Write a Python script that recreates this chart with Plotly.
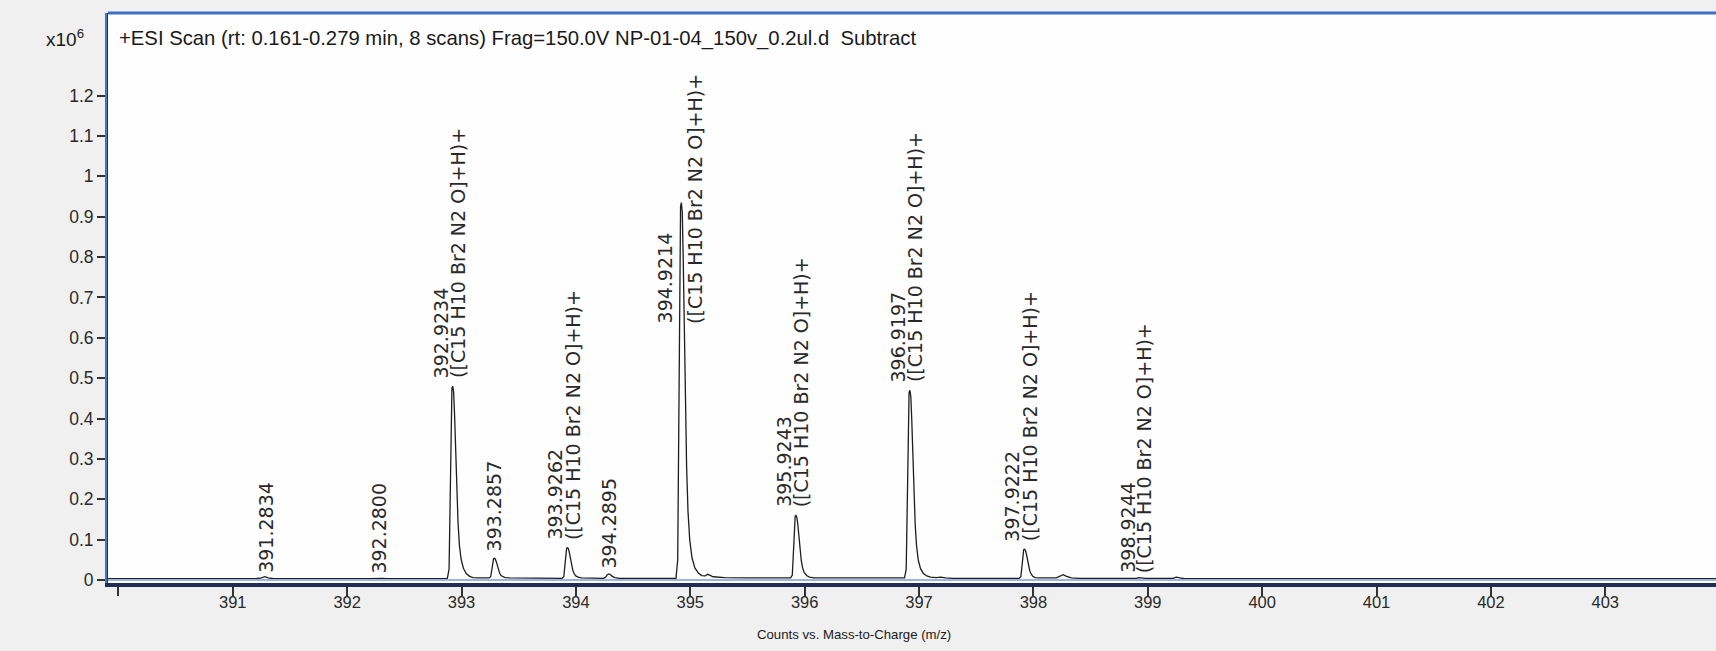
import plotly.graph_objects as go

# profile spectrum, m/z vs counts (x10^6)
mz = [389.91, 391.20, 391.25, 391.28, 391.31, 391.36, 392.20, 392.26, 392.28, 392.31, 392.35,
      392.876, 392.891, 392.901, 392.909, 392.916, 392.923, 392.931, 392.939, 392.949, 392.959, 392.969,
      392.981, 392.996, 393.016, 393.041, 393.071, 393.10, 393.15,
      393.24, 393.255, 393.265, 393.273, 393.280, 393.287, 393.295, 393.303, 393.313, 393.323, 393.333,
      393.345, 393.36, 393.38, 393.42,
      393.879, 393.894, 393.904, 393.912, 393.919, 393.926, 393.934, 393.942, 393.952, 393.962, 393.972,
      393.984, 393.999, 394.019, 394.05,
      394.24, 394.26, 394.275, 394.289, 394.303, 394.318, 394.34, 394.38,
      394.875, 394.890, 394.900, 394.908, 394.915, 394.922, 394.930, 394.938, 394.948, 394.958, 394.968,
      394.98, 394.995, 395.015, 395.04, 395.07, 395.10, 395.13, 395.15, 395.17, 395.20, 395.30, 395.50,
      395.877, 395.892, 395.902, 395.910, 395.917, 395.924, 395.932, 395.940, 395.950, 395.960, 395.970,
      395.982, 395.997, 396.017, 396.042, 396.08,
      396.873, 396.888, 396.898, 396.906, 396.913, 396.920, 396.928, 396.936, 396.946, 396.956, 396.966,
      396.978, 396.993, 397.013, 397.038, 397.068, 397.10, 397.15, 397.19, 397.23, 397.30,
      397.875, 397.890, 397.900, 397.908, 397.915, 397.922, 397.930, 397.938, 397.948, 397.958, 397.968,
      397.980, 397.995, 398.015, 398.05,
      398.20, 398.23, 398.26, 398.29, 398.33, 398.40,
      398.90, 398.92, 398.94, 398.98, 399.22, 399.25, 399.28, 399.32, 400.00, 403.97]
counts = [0.003, 0.003, 0.005, 0.008, 0.005, 0.003, 0.003, 0.004, 0.005, 0.004, 0.003,
          0.004, 0.027, 0.21, 0.41, 0.475, 0.48, 0.465, 0.41, 0.31, 0.215, 0.145,
          0.087, 0.052, 0.029, 0.016, 0.009, 0.006, 0.005,
          0.005, 0.008, 0.025, 0.046, 0.053, 0.054, 0.052, 0.046, 0.035, 0.025, 0.017,
          0.011, 0.008, 0.006, 0.005,
          0.004, 0.008, 0.036, 0.068, 0.079, 0.080, 0.078, 0.069, 0.052, 0.036, 0.025,
          0.016, 0.010, 0.007, 0.005,
          0.004, 0.007, 0.013, 0.015, 0.013, 0.009, 0.006, 0.004,
          0.004, 0.05, 0.40, 0.80, 0.925, 0.935, 0.91, 0.80, 0.60, 0.42, 0.28,
          0.17, 0.10, 0.055, 0.03, 0.017, 0.011, 0.010, 0.014, 0.012, 0.008, 0.006, 0.005,
          0.005, 0.012, 0.07, 0.138, 0.158, 0.160, 0.155, 0.138, 0.103, 0.073, 0.049,
          0.030, 0.018, 0.011, 0.007, 0.005,
          0.005, 0.027, 0.20, 0.40, 0.465, 0.47, 0.455, 0.40, 0.30, 0.21, 0.14,
          0.085, 0.05, 0.028, 0.016, 0.010, 0.007, 0.006, 0.007, 0.005, 0.004,
          0.004, 0.008, 0.034, 0.065, 0.075, 0.076, 0.074, 0.065, 0.049, 0.034, 0.023,
          0.015, 0.009, 0.006, 0.005,
          0.005, 0.010, 0.013, 0.009, 0.005, 0.004,
          0.004, 0.006, 0.005, 0.004, 0.004, 0.007, 0.005, 0.003, 0.003, 0.003]

# peak labels
peak_mz = [391.2834, 392.2800, 392.9234, 393.2857, 393.9262, 394.2895, 394.9214,
           395.9243, 396.9197, 397.9222, 398.9244]
label_y = [0.012, 0.010, 0.495, 0.065, 0.095, 0.022, 0.63, 0.175, 0.485, 0.09, 0.012]
formula = '([C15 H10 Br2 N2 O]+H)+'
has_formula = [False, False, True, False, True, False, True, True, True, True, True]

x_ticks = list(range(390, 404))
x_ticktext = [''] + [str(v) for v in x_ticks[1:]]
y_ticks = [0, 0.1, 0.2, 0.3, 0.4, 0.5, 0.6, 0.7, 0.8, 0.9, 1, 1.1, 1.2]

title = '+ESI Scan (rt: 0.161-0.279 min, 8 scans) Frag=150.0V NP-01-04_150v_0.2ul.d  Subtract'

SANS = 'Liberation Sans, Arial, sans-serif'
LABEL = 'DejaVu Sans, Liberation Sans, sans-serif'

fig = go.Figure()
fig.add_trace(go.Scatter(x=mz, y=counts, mode='lines', line=dict(color='#1e1e1e', width=1.3),
                         hoverinfo='x+y', showlegend=False))

annotations = []
for m, ly, f in zip(peak_mz, label_y, has_formula):
    num = '%.4f' % m
    lfont = dict(family=LABEL, size=19, color='#2a2a2a')
    if f:
        wide = 394.9 < m < 395.0
        annotations.append(dict(x=m, y=ly, xref='x', yref='y', text=num, textangle=-90,
                                showarrow=False, xanchor='center', yanchor='bottom',
                                xshift=-16 if wide else -12, font=lfont))
        annotations.append(dict(x=m, y=ly, xref='x', yref='y', text=formula, textangle=-90,
                                showarrow=False, xanchor='center', yanchor='bottom',
                                xshift=13 if wide else 5, font=lfont))
    else:
        annotations.append(dict(x=m, y=ly, xref='x', yref='y', text=num, textangle=-90,
                                showarrow=False, xanchor='center', yanchor='bottom', font=lfont))

annotations.append(dict(x=0.0056, y=0.956, xref='paper', yref='paper', text=title, showarrow=False,
                        xanchor='left', yanchor='middle', font=dict(family=SANS, size=20.3, color='#1a1a1a')))
annotations.append(dict(x=-0.0398, y=0.956, xref='paper', yref='paper', text='x10<sup>6</sup>', showarrow=False,
                        xanchor='left', yanchor='middle', font=dict(family=SANS, size=19, color='#1a1a1a')))
annotations.append(dict(x=0.464, y=-0.09, xref='paper', yref='paper', text='Counts vs. Mass-to-Charge (m/z)',
                        showarrow=False, xanchor='center', yanchor='middle',
                        font=dict(family=SANS, size=13.2, color='#1a1a1a')))

shapes = [
    dict(type='line', xref='paper', yref='paper', x0=0, x1=1, y0=1, y1=1, line=dict(color='#3f6fc4', width=3)),
    dict(type='line', xref='paper', yref='paper', x0=-0.0012, x1=-0.0012, y0=0, y1=1, line=dict(color='#4a78c8', width=2)),
    dict(type='line', xref='paper', yref='y', x0=0, x1=1, y0=0.0, y1=0.0, line=dict(color='#9bb6e0', width=2)),
]

fig.update_layout(
    width=1716, height=651,
    margin=dict(l=108, r=0, t=13, b=68),
    paper_bgcolor='#f0f0f0', plot_bgcolor='#fefefe',
    annotations=annotations, shapes=shapes,
    xaxis=dict(range=[389.909, 403.968], tickvals=x_ticks, ticktext=x_ticktext, ticks='outside',
               ticklen=9, tickwidth=1.5, tickcolor='#333', showgrid=False, zeroline=False,
               showline=True, linecolor='#1f2d57', linewidth=4, ticklabelstandoff=-8,
               tickfont=dict(family=SANS, size=16.5, color='#2a2a2a')),
    yaxis=dict(range=[-0.0075, 1.4045], tickvals=y_ticks, ticks='outside', ticklen=8, tickwidth=1.5,
               tickcolor='#333', showgrid=False, zeroline=False, showline=True, linecolor='#1f2d57',
               linewidth=3, tickfont=dict(family=SANS, size=17.5, color='#2a2a2a')),
)

fig.write_html('out.html', config={'displayModeBar': False},
               post_script="document.body.style.margin='0';document.body.style.background='#f0f0f0';")
